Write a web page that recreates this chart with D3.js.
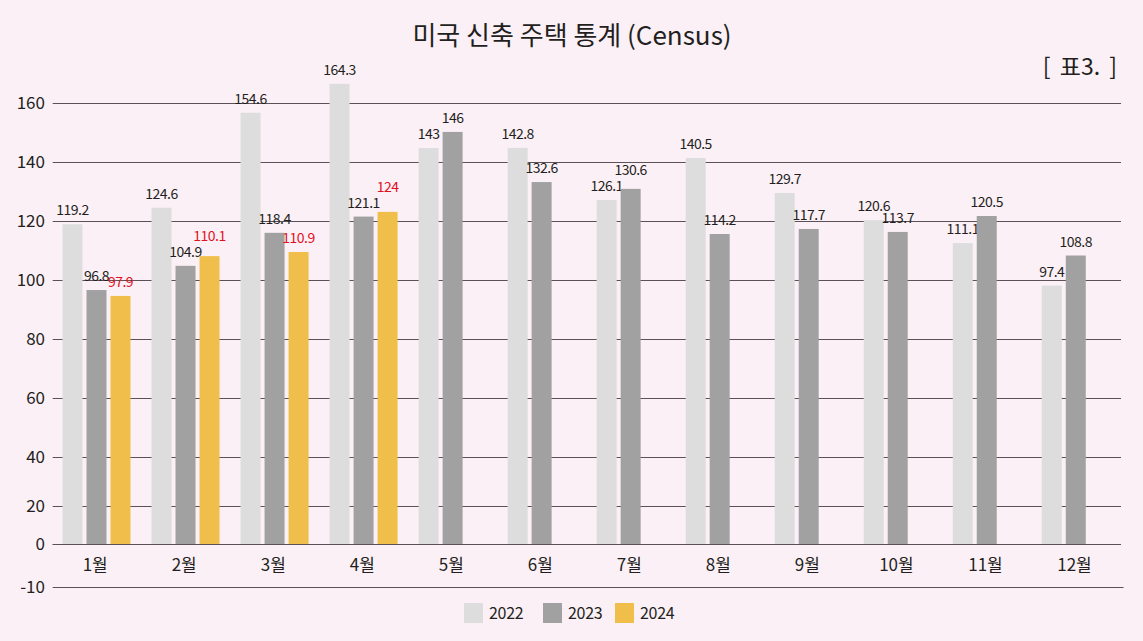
<!DOCTYPE html>
<html><head><meta charset="utf-8">
<script src="https://cdn.jsdelivr.net/npm/d3@7"></script>
<style>
html,body{margin:0;padding:0;background:#fcf0f7;}
svg{display:block;font-family:"Noto Sans CJK KR","Noto Sans",sans-serif;}
</style></head>
<body>
<svg id="chart" width="1143" height="641"></svg>
<script>
const months = ["1월","2월","3월","4월","5월","6월","7월","8월","9월","10월","11월","12월"];
const years = ["2022","2023","2024"];
// bar heights as drawn
const values2022 = [119.0,124.6,156.8,166.6,144.8,144.9,127.2,141.5,129.6,120.4,112.6,98.2];
const values2023 = [96.7,104.9,116.1,121.6,150.3,133.3,131.0,115.7,117.4,116.4,121.8,108.4];
const values2024 = [94.7,108.2,109.6,123.2];
// printed data labels
const labels2022 = ["119.2","124.6","154.6","164.3","143","142.8","126.1","140.5","129.7","120.6","111.1","97.4"];
const labels2023 = ["96.8","104.9","118.4","121.1","146","132.6","130.6","114.2","117.7","113.7","120.5","108.8"];
const labels2024 = ["97.9","110.1","110.9","124"];
const yTicks = [-10,0,20,40,60,80,100,120,140,160];
const title = "미국 신축 주택 통계 (Census)";
const tableTag = "[ 표3. ]";

const colors = {"2022":"#dcdddc","2023":"#a0a1a0","2024":"#f0bf4b"};
const labelColors = {"2022":"#231f20","2023":"#231f20","2024":"#e2101e"};

const series = [
  {year:"2022", values:values2022, labels:labels2022},
  {year:"2023", values:values2023, labels:labels2023},
  {year:"2024", values:values2024, labels:labels2024}
];

const svg = d3.select("#chart");

// axis is broken in the original: piecewise linear scale through the tick positions
const y = d3.scaleLinear()
  .domain([-10,0,20,40,160])
  .range([587.3,544.3,506.3,457.3,103.3]);

const x0 = d3.scaleBand().domain(months).range([52.7,1121]).paddingInner(0).paddingOuter(0);
const x1 = d3.scaleBand().domain(years).range([9.8, 9.8+68]).paddingInner(4/24).paddingOuter(0);

// title
svg.append("text").attr("x",572).attr("y",45).attr("text-anchor","middle")
  .attr("font-size",26).attr("fill","#231f20").text(title);
svg.append("text").attr("x",1117).attr("y",75).attr("text-anchor","end")
  .attr("font-size",23).attr("word-spacing",4).attr("fill","#231f20").text(tableTag);

// gridlines
const grid = svg.append("g");
grid.selectAll("line").data(yTicks).join("line")
  .attr("x1",52.7).attr("x2",d=> d===-10 ? 1123.5 : 1121)
  .attr("y1",d=>Math.round(y(d))+0.5).attr("y2",d=>Math.round(y(d))+0.5)
  .attr("stroke","#5b5157").attr("stroke-width",1);

// y tick labels
svg.append("g").selectAll("text").data(yTicks).join("text")
  .attr("x",45).attr("y",d=>y(d)+6).attr("text-anchor","end")
  .attr("font-size",17).attr("fill","#231f20").text(d=>d);

// bars
const bars = svg.append("g");
const labelNodes = months.map(()=>[]);
series.forEach(s=>{
  const g = bars.append("g");
  const data = s.values.map((v,i)=>({m:months[i],i:i,v:v,l:s.labels[i]}));
  g.selectAll("rect").data(data).join("rect")
    .attr("x",d=>x0(d.m)+x1(s.year))
    .attr("width",x1.bandwidth())
    .attr("y",d=>y(d.v))
    .attr("height",d=>y(0)-y(d.v))
    .attr("fill",colors[s.year]);
  g.selectAll("text").data(data).join("text")
    .attr("x",d=>x0(d.m)+x1(s.year)+x1.bandwidth()/2)
    .attr("y",d=>y(d.v)-9)
    .attr("text-anchor","middle")
    .attr("font-size",14)
    .attr("letter-spacing","-0.5")
    .attr("fill",labelColors[s.year])
    .text(d=>d.l)
    .each(function(d){ labelNodes[d.i].push(this); });
});

// simple collision avoidance between neighbouring labels within a month
const capH = 11;
labelNodes.forEach(nodes=>{
  for(let k=1;k<nodes.length;k++){
    const a = nodes[k-1], b = nodes[k];
    const ax = +a.getAttribute("x"), bx = +b.getAttribute("x");
    const aw = a.getComputedTextLength(), bw = b.getComputedTextLength();
    const ay = +a.getAttribute("y"), by = +b.getAttribute("y");
    const hOverlap = (ax+aw/2) > (bx-bw/2) + 3;
    const vOverlap = Math.abs(ay-by) < capH+2;
    if(hOverlap && vOverlap && by <= ay + 6){
      b.setAttribute("y", ay - capH - 5);
    }
  }
});

// redraw zero line on top
svg.append("line").attr("x1",52.7).attr("x2",1121)
  .attr("y1",Math.round(y(0))+0.5).attr("y2",Math.round(y(0))+0.5)
  .attr("stroke","#5b5157").attr("stroke-width",1);

// month labels
svg.append("g").selectAll("text").data(months).join("text")
  .attr("x",d=>x0(d)+x0.bandwidth()/2 - 2)
  .attr("y",571).attr("text-anchor","middle")
  .attr("font-size",17).attr("fill","#231f20").text(d=>d);

// legend
const legX = [464,543,615];
const leg = svg.append("g");
years.forEach((yr,i)=>{
  leg.append("rect").attr("x",legX[i]).attr("y",603).attr("width",19).attr("height",20).attr("fill",colors[yr]);
  leg.append("text").attr("x",legX[i]+25).attr("y",619).attr("font-size",16).attr("letter-spacing","-0.3").attr("fill","#231f20").text(yr);
});
</script>
</body></html>
